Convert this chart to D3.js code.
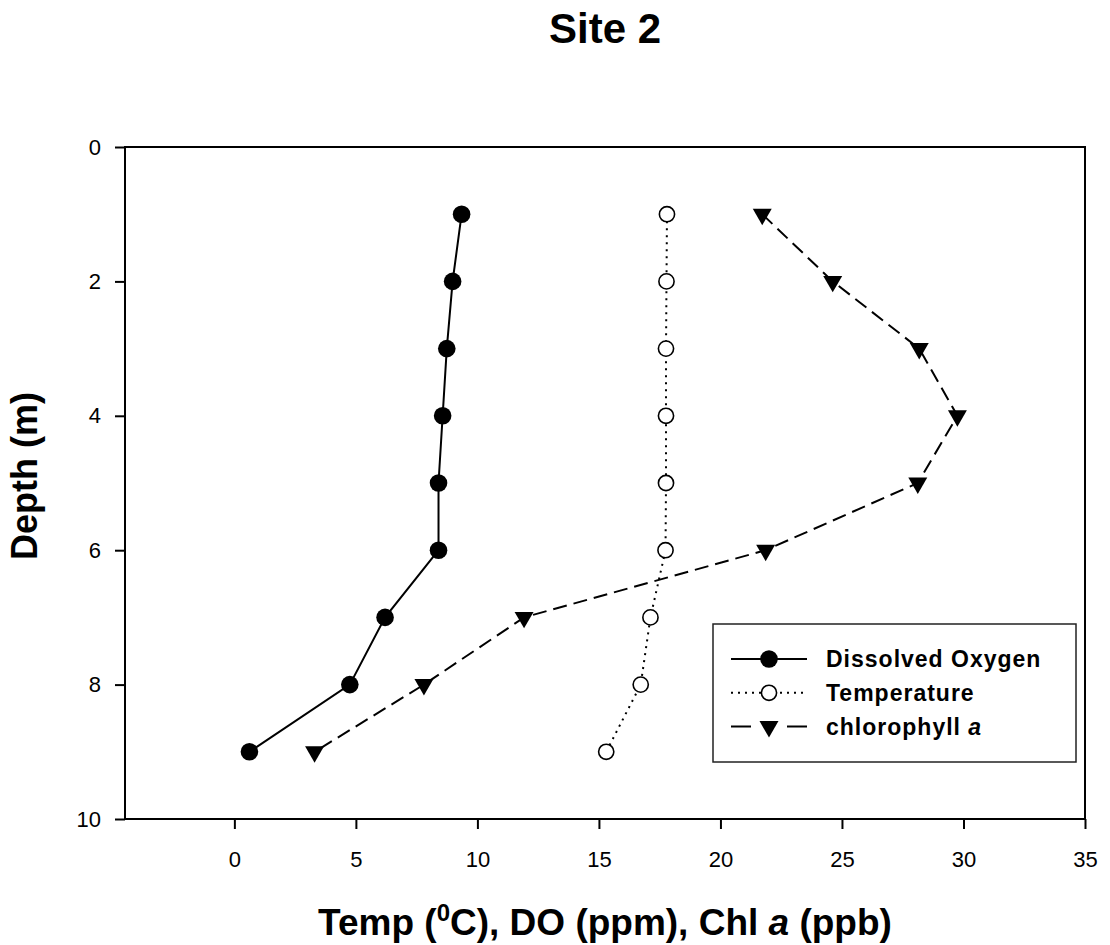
<!DOCTYPE html>
<html>
<head>
<meta charset="utf-8">
<script src="https://cdn.jsdelivr.net/npm/d3@7"></script>
<style>
  body { margin: 0; background: #fff; }
  text { font-family: "Liberation Sans", Arial, sans-serif; fill: #000; }
</style>
</head>
<body>
<script>
(function() {

    const width = 1110;
    const height = 945;

    // depth of each sample (m)
    const depths = [1, 2, 3, 4, 5, 6, 7, 8, 9];
    // readings at each depth
    const dissolvedOxygen = [9.35, 8.98, 8.74, 8.57, 8.4, 8.4, 6.2, 4.75, 0.62];
    const temperature = [17.8, 17.78, 17.76, 17.76, 17.76, 17.74, 17.12, 16.72, 15.3];
    const chlorophyll = [21.72, 24.62, 28.18, 29.75, 28.12, 21.86, 11.92, 7.8, 3.3];

    const xTicks = [0, 5, 10, 15, 20, 25, 30, 35];
    const yTicks = [0, 2, 4, 6, 8, 10];
    const seriesNames = ["Dissolved Oxygen", "Temperature", "chlorophyll"];

    const margin = {top: 147, right: 25, bottom: 126, left: 125};

    let svg = d3.select("body").append("svg")
        .attr("width", width)
        .attr("height", height);

    let x = d3.scaleLinear()
        .domain([-4.5, 35])
        .range([margin.left, width - margin.right]);

    let y = d3.scaleLinear()
        .domain([0, 10])
        .range([margin.top, height - margin.bottom]);

    // frame
    svg.append("rect")
        .attr("x", x.range()[0])
        .attr("y", y.range()[0])
        .attr("width", x.range()[1] - x.range()[0])
        .attr("height", y.range()[1] - y.range()[0])
        .style("fill", "none")
        .style("stroke", "#000")
        .style("stroke-width", 2);

    // axes
    let xAxis = svg.append("g")
        .attr("transform", "translate(0," + y.range()[1] + ")")
        .call(d3.axisBottom(x).tickValues(xTicks).tickSize(10).tickPadding(22).tickSizeOuter(0));

    let yAxis = svg.append("g")
        .attr("transform", "translate(" + x.range()[0] + ",0)")
        .call(d3.axisLeft(y).tickValues(yTicks).tickSize(10).tickPadding(14).tickSizeOuter(0));

    [xAxis, yAxis].forEach(function(ax) {
        ax.select(".domain").remove();
        ax.selectAll("line").style("stroke", "#000").style("stroke-width", 2);
        ax.selectAll("text")
            .style("font-size", "22px")
            .style("font-family", "'Liberation Sans', Arial, sans-serif")
            .attr("fill", "#000");
    });

    // title
    svg.append("text")
        .attr("x", (x.range()[0] + x.range()[1]) / 2)
        .attr("y", 43)
        .attr("text-anchor", "middle")
        .style("font-size", "42px")
        .style("font-weight", "bold")
        .text("Site 2");

    // x axis title
    let xt = svg.append("text")
        .attr("x", (x.range()[0] + x.range()[1]) / 2)
        .attr("y", 935)
        .attr("text-anchor", "middle")
        .style("font-size", "37px")
        .style("font-weight", "bold");
    xt.append("tspan").text("Temp (");
    xt.append("tspan").attr("dy", -14).style("font-size", "24px").text("0");
    xt.append("tspan").attr("dy", 14).text("C), DO (ppm), Chl ");
    xt.append("tspan").style("font-style", "italic").text("a");
    xt.append("tspan").text(" (ppb)");

    // y axis title
    svg.append("text")
        .attr("transform", "translate(37," + ((y.range()[0] + y.range()[1]) / 2 - 7) + ") rotate(-90)")
        .attr("text-anchor", "middle")
        .style("font-size", "36px")
        .style("font-weight", "bold")
        .text("Depth (m)");

    let line = d3.line()
        .x(function(d) { return x(d[0]); })
        .y(function(d) { return y(d[1]); });

    function pairs(values) {
        return values.map(function(v, i) { return [v, depths[i]]; });
    }

    let series = [
        {name: seriesNames[0], values: dissolvedOxygen, dash: null, legendDash: null, marker: "filledCircle"},
        {name: seriesNames[1], values: temperature, dash: "2,5", legendDash: "2,5", marker: "openCircle"},
        {name: seriesNames[2], values: chlorophyll, dash: "14,7", legendDash: "20,36", marker: "triangle"}
    ];

    function drawMarker(g, type) {
        if (type === "filledCircle") {
            g.append("circle").attr("r", 8.8).style("fill", "#000");
        } else if (type === "openCircle") {
            g.append("circle").attr("r", 7.6)
                .style("fill", "#fff").style("stroke", "#000").style("stroke-width", 1.6);
        } else {
            g.append("path")
                .attr("d", d3.symbol().type(d3.symbolTriangle).size(156)())
                .attr("transform", "rotate(180)")
                .style("fill", "#000");
        }
    }

    series.forEach(function(s) {
        let pts = pairs(s.values);
        svg.append("path")
            .datum(pts)
            .attr("d", line)
            .style("fill", "none")
            .style("stroke", "#000")
            .style("stroke-width", 2)
            .style("stroke-dasharray", s.dash);

        svg.selectAll(null)
            .data(pts)
            .enter()
            .append("g")
            .attr("transform", function(d) { return "translate(" + x(d[0]) + "," + y(d[1]) + ")"; })
            .each(function() { drawMarker(d3.select(this), s.marker); });
    });

    // legend
    let legend = svg.append("g");
    legend.append("rect")
        .attr("x", 713)
        .attr("y", 624)
        .attr("width", 363)
        .attr("height", 138)
        .style("fill", "#fff")
        .style("stroke", "#222")
        .style("stroke-width", 1.5);

    let item = legend.selectAll("g.item")
        .data(series)
        .enter()
        .append("g")
        .attr("class", "item")
        .attr("transform", function(d, i) { return "translate(769," + (659 + i * 33.8) + ")"; });

    item.append("line")
        .attr("x1", -38)
        .attr("x2", 38)
        .style("stroke", "#000")
        .style("stroke-width", 2)
        .style("stroke-dasharray", function(d) { return d.legendDash; });

    item.each(function(d) { drawMarker(d3.select(this), d.marker); });

    let labels = item.append("text")
        .attr("x", 57)
        .attr("y", 8)
        .style("font-size", "23px")
        .style("font-weight", "bold")
        .style("letter-spacing", "1px");
    labels.append("tspan").text(function(d) { return d.name; });
    labels.filter(function(d) { return d.marker === "triangle"; })
        .append("tspan").style("font-style", "italic").text(" a");

})();
</script>
</body>
</html>
